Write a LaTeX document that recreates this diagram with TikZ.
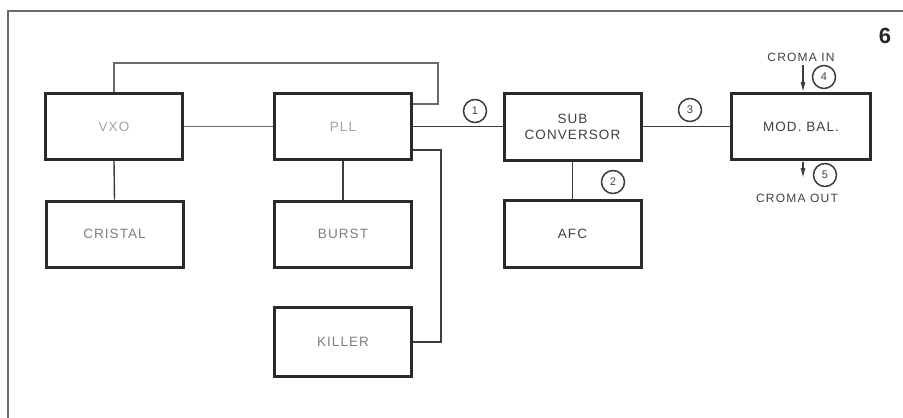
\documentclass[tikz,border=0pt]{standalone}
\usepackage{fontspec}
\setmainfont{Liberation Sans}
\newfontfamily\lblfont[LetterSpace=8]{Liberation Sans}
\newfontfamily\smfont[LetterSpace=10]{Liberation Sans}
\usetikzlibrary{arrows.meta}
\definecolor{boxline}{HTML}{2A2A2A}
\definecolor{wire}{HTML}{3C3C3C}
\definecolor{lightwire}{HTML}{6A6A6A}
\definecolor{txtdark}{HTML}{404040}
\definecolor{txtmid}{HTML}{7E7E7E}
\definecolor{txtlight}{HTML}{A2A2A2}
\begin{document}
\begin{tikzpicture}[x=1pt,y=-1pt,
  blk/.style={draw=boxline, line width=3pt, minimum width=137pt, minimum height=66pt,
    inner sep=0pt, align=center, font=\lblfont\fontsize{13.5}{16}\selectfont},
  wireline/.style={draw=wire, line width=1.4pt},
  lwire/.style={draw=lightwire, line width=1.2pt},
  numc/.style={circle, draw=wire, line width=1.5pt, minimum size=23pt, inner sep=0pt,
    font=\fontsize{11}{12}\selectfont, text=txtdark},
  tipline/.style={draw=wire, line width=1.1pt, -{Latex[length=10pt,width=5pt]}},
  lbl/.style={font=\smfont\fontsize{12}{13}\selectfont, text=txtdark, inner sep=0pt}
]
\useasboundingbox (0,0) rectangle (903,418);
% frame
\draw[draw=lightwire, line width=1.6pt] (8,418) -- (8,11) -- (903,11);
\node[font=\bfseries\fontsize{22}{24}\selectfont, text=black!85, inner sep=0pt] (six) at (885,36) {6};

% blocks
\node[blk, text=txtlight] (vxo) at (114,126.5) {VXO};
\node[blk, text=txtmid] (cristal) at (114.5,234) {CRISTAL};
\node[blk, text=txtlight] (pll) at (343,126.5) {PLL};
\node[blk, text=txtmid] (burst) at (343,234) {BURST};
\node[blk, text=txtmid, minimum height=69pt] (killer) at (343,342) {KILLER};
\node[blk, text=txtdark, minimum height=67pt] (sub) at (572.5,126.5) {SUB\\CONVERSOR};
\node[blk, text=txtdark, minimum height=67pt] (afc) at (572.5,234) {AFC};
\node[blk, text=txtdark, minimum width=139pt] (mod) at (801,126.5) {MOD. BAL.};

% connectors
\coordinate (loopL) at (114,63);
\coordinate (loopR) at (438,63);
\coordinate (pllTop) at (412,104);
\draw[lwire] (vxo.north) -- (loopL) -- (loopR) |- (pll.east |- pllTop);
\draw[lwire] (vxo.east) -- (pll.west);
\draw[wireline] (vxo.south) -- (cristal.north);
\draw[wireline] (pll.south) -- (burst.north);
\draw[wireline] (pll.east) -- (sub.west);
\coordinate (pllLow) at (412,150);
\coordinate (killRail) at (441,150);
\draw[wireline] (pll.east |- pllLow) -- (killRail) |- (killer.east);
\draw[wireline, line width=1.8pt] (sub.south) -- (afc.north);
\draw[wireline] (sub.east) -- (mod.west);

% numbered circles
\node[numc] (c1) at (475,111) {1};
\node[numc] (c2) at (613,182) {2};
\node[numc] (c3) at (690,110) {3};
\node[numc] (c4) at (824,77) {4};
\node[numc] (c5) at (825,175) {5};

% croma in / out
\node[lbl] (cin) at (801,57) {CROMA IN};
\node[lbl] (cout) at (797,198) {CROMA OUT};
\coordinate (a4s) at (803,65);
\draw[tipline] (a4s) -- (a4s |- mod.north);
\coordinate (a5s) at (803,162);
\coordinate (a5e) at (803,178);
\draw[tipline] (a5s) -- (a5e);
\end{tikzpicture}
\end{document}
